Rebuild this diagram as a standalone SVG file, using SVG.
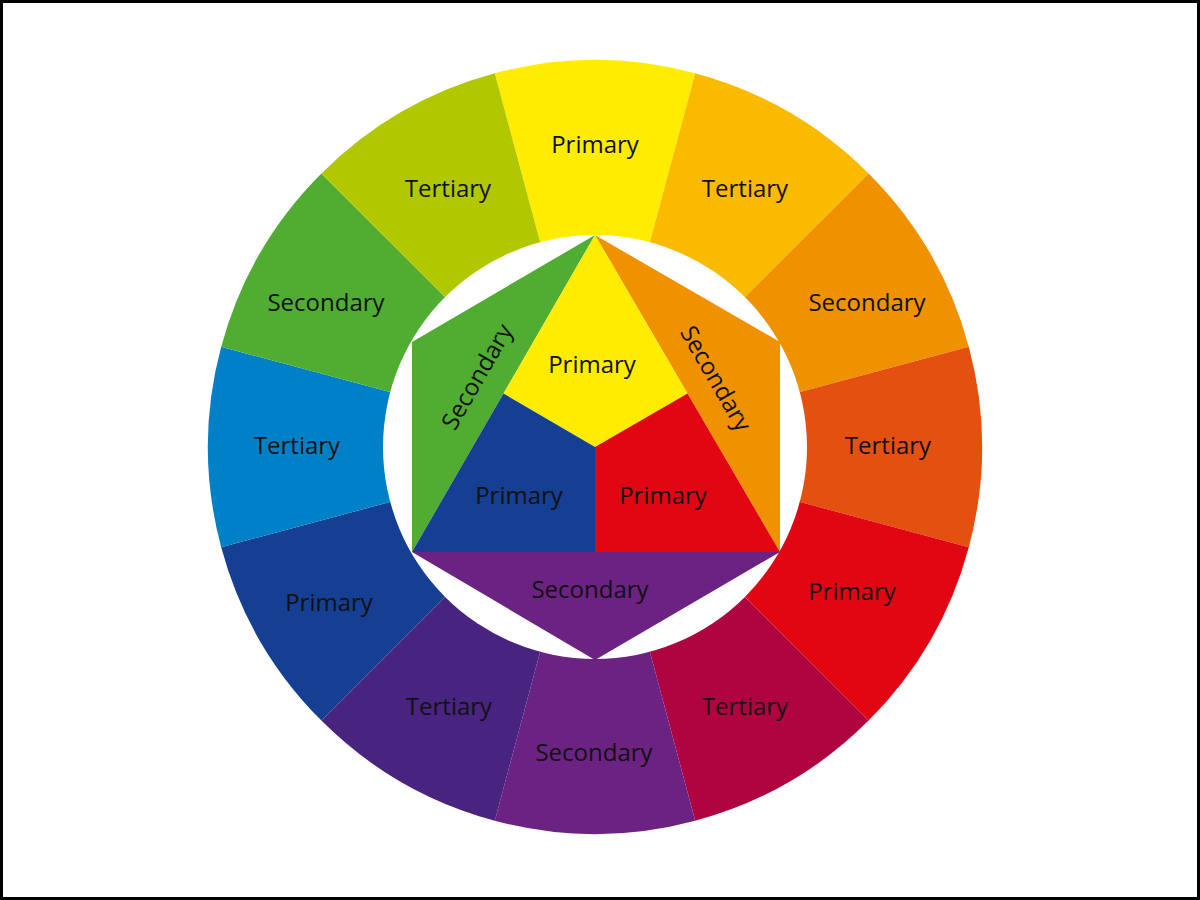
<svg xmlns="http://www.w3.org/2000/svg" width="1200" height="900" viewBox="0 0 1200 900">
<style>
text{font-family:"Open Sans","Noto Sans","Liberation Sans",sans-serif;font-size:24px;fill:#111;text-anchor:middle;dominant-baseline:central}
</style>
<rect x="0" y="0" width="1200" height="900" fill="#fff"/>
<rect x="1.5" y="1.5" width="1197" height="897" fill="none" stroke="#000" stroke-width="3"/>
<g id="outer-ring">
<g id="s0"><path d="M595,447 L494.8,73.2 A387,387 0 0,1 695.2,73.2 Z" fill="#FFEC00"/><text x="595" y="143">Primary</text></g>
<g id="s1"><path d="M595,447 L695.2,73.2 A387,387 0 0,1 868.6,173.4 Z" fill="#F9BA00"/><text x="745" y="187">Tertiary</text></g>
<g id="s2"><path d="M595,447 L868.6,173.4 A387,387 0 0,1 968.8,346.8 Z" fill="#F09100"/><text x="867" y="301">Secondary</text></g>
<g id="s3"><path d="M595,447 L968.8,346.8 A387,387 0 0,1 968.8,547.2 Z" fill="#E4500F"/><text x="888" y="444">Tertiary</text></g>
<g id="s4"><path d="M595,447 L968.8,547.2 A387,387 0 0,1 868.6,720.6 Z" fill="#E20613"/><text x="852" y="590">Primary</text></g>
<g id="s5"><path d="M595,447 L868.6,720.6 A387,387 0 0,1 695.2,820.8 Z" fill="#AF0440"/><text x="745" y="705">Tertiary</text></g>
<g id="s6"><path d="M595,447 L695.2,820.8 A387,387 0 0,1 494.8,820.8 Z" fill="#6C2282"/><text x="594" y="751">Secondary</text></g>
<g id="s7"><path d="M595,447 L494.8,820.8 A387,387 0 0,1 321.4,720.6 Z" fill="#482480"/><text x="449" y="705">Tertiary</text></g>
<g id="s8"><path d="M595,447 L321.4,720.6 A387,387 0 0,1 221.2,547.2 Z" fill="#143F92"/><text x="329" y="601">Primary</text></g>
<g id="s9"><path d="M595,447 L221.2,547.2 A387,387 0 0,1 221.2,346.8 Z" fill="#0080C6"/><text x="297" y="444">Tertiary</text></g>
<g id="s10"><path d="M595,447 L221.2,346.8 A387,387 0 0,1 321.4,173.4 Z" fill="#50AD32"/><text x="326" y="301">Secondary</text></g>
<g id="s11"><path d="M595,447 L321.4,173.4 A387,387 0 0,1 494.8,73.2 Z" fill="#B1C800"/><text x="448" y="187">Tertiary</text></g>
</g>
<circle cx="595" cy="447" r="212" fill="#fff"/>
<g id="inner">
<g id="green"><path d="M595,235 L412,342 L412,552 Z" fill="#50AD32"/><text transform="translate(476,376) rotate(-60)">Secondary</text></g>
<g id="orange"><path d="M595,235 L780,342 L780,552 Z" fill="#F09100"/><text transform="translate(717,378) rotate(60)">Secondary</text></g>
<g id="purple"><path d="M412,552 L780,552 L595,660 Z" fill="#6C2282"/><text x="590" y="588">Secondary</text></g>
<g id="yellow"><path d="M595,235 L687.5,393.5 L595,447 L503.5,393.5 Z" fill="#FFEC00"/><text x="592" y="363">Primary</text></g>
<g id="red"><path d="M687.5,393.5 L780,552 L595,552 L595,447 Z" fill="#E20613"/><text x="663" y="494">Primary</text></g>
<g id="blue"><path d="M503.5,393.5 L595,447 L595,552 L412,552 Z" fill="#143F92"/><text x="519" y="494">Primary</text></g>
</g>
</svg>
